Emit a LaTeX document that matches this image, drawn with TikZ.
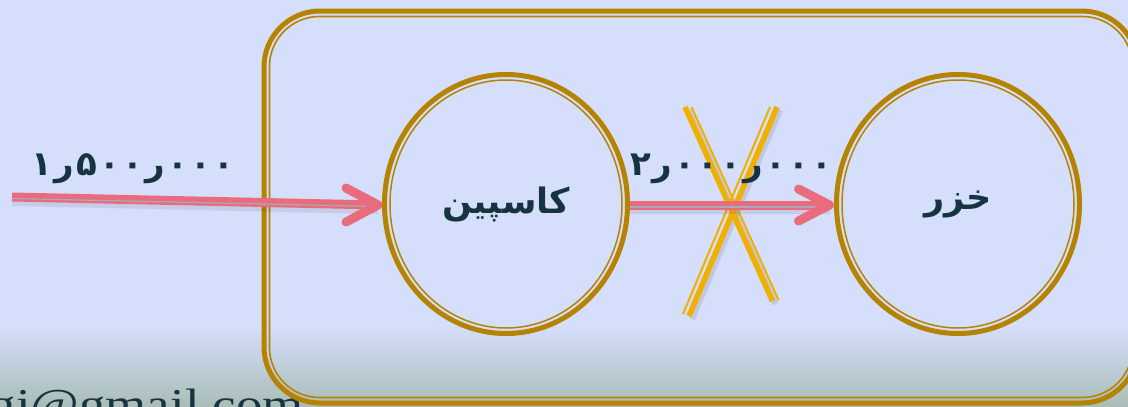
\documentclass[tikz,border=0pt]{standalone}
\usepackage{fontspec}
\setmainfont{Liberation Serif}
\newfontfamily\fa[Script=Arabic]{DejaVu Sans}
\newfontfamily\mailfont[FakeStretch=1.2]{Liberation Serif}
\TeXXeTstate=1
\usetikzlibrary{shapes.geometric}
\definecolor{bgc}{HTML}{D5DEFB}
\definecolor{bgb}{HTML}{A9BDB7}
\definecolor{gold}{HTML}{B58300}
\definecolor{pinkc}{HTML}{E86C7C}
\definecolor{shaftgray}{HTML}{A9A9BC}
\definecolor{xorange}{HTML}{F1AF00}
\definecolor{ink}{HTML}{163440}
\newcommand{\dg}[1]{\mbox{#1}\kern2.2pt}
\tikzset{
  ring/.style={ellipse, draw=gold, line width=5pt, minimum width=243pt,
    minimum height=259pt, inner sep=0pt, text=ink,
    font=\fa\bfseries\fontsize{35}{40}\selectfont},
  innerring/.style={draw=gold, line width=1.5pt},
  shaft/.style={draw=pinkc, line width=9pt},
  shaftmid/.style={draw=shaftgray, line width=1.2pt},
  shaftshadow/.style={draw=black, opacity=0.08, line width=10pt},
  head/.style={draw=pinkc, line width=9pt, line cap=round, line join=round},
  flowlabel/.style={text=ink, inner sep=0pt, font=\fa\bfseries\fontsize{34}{38}\selectfont},
  xthick/.style={draw=xorange, line width=5.5pt},
  xthin/.style={draw=xorange, line width=2pt},
  xshadow/.style={draw=black, opacity=0.10, line width=6pt},
}
\begin{document}
\begin{tikzpicture}[x=1pt,y=-1pt]
\useasboundingbox (0,0) rectangle (1128,407);
\clip (0,0) rectangle (1128,407);
\fill[bgc] (0,0) rectangle (1128,407);
\shade[top color=bgc, bottom color=bgb] (0,326) rectangle (1128,407);

% email (cut off, as in the reference)
\node[font=\mailfont\fontsize{44}{48}\selectfont, text=ink, anchor=base east, inner sep=0pt] (mail) at (304,419) {gi@gmail.com};

% frame
\draw[gold, line width=5pt, rounded corners=56pt] (264,11) rectangle (1138,403);
\draw[gold, line width=1.6pt, rounded corners=50pt] (269.5,16.5) rectangle (1132.5,397.5);

% circles
\node[ring] (c1) at (506,204) {\beginR کاسپین\endR};
\node[ring] (c2) at (958,204) {\beginR خزر\endR};
\draw[innerring] (c1.center) ellipse [x radius=116pt, y radius=124pt];
\draw[innerring] (c2.center) ellipse [x radius=116pt, y radius=124pt];

% cross
\coordinate (xa1) at (685,107);  \coordinate (xa2) at (772.5,301);
\coordinate (xb1) at (777,107);  \coordinate (xb2) at (689,316);
\draw[xshadow] ([xshift=3pt,yshift=-3pt]xa1) -- ([xshift=3pt,yshift=-3pt]xa2);
\draw[xshadow] ([xshift=3pt,yshift=-3pt]xb1) -- ([xshift=3pt,yshift=-3pt]xb2);
\draw[xthick] (xa1) -- (xa2);
\draw[xthin] ([xshift=6.5pt]xa1) -- ([xshift=6pt,yshift=1pt]xa2);
\draw[xthick] (xb1) -- (xb2);
\draw[xthin] ([xshift=-7pt]xb1) -- ([xshift=-6pt,yshift=2pt]xb2);

% labels
\node[flowlabel] (l1) at (133,169) {\dg{۱}\dg{ر}\dg{۵}\dg{۰}\dg{۰}\dg{ر}\dg{۰}\dg{۰}\mbox{۰}};
\node[flowlabel] (l2) at (731,169) {\dg{۲}\dg{ر}\dg{۰}\dg{۰}\dg{۰}\dg{ر}\dg{۰}\dg{۰}\mbox{۰}};

% arrow 1
\coordinate (s1) at (12,197);
\coordinate (t1) at ([xshift=-4pt,yshift=-1pt]c1.west);
\draw[shaftshadow] ([yshift=-4pt]s1) -- ([yshift=-4pt]t1);
\draw[shaft] (s1) -- (t1);
\draw[shaftmid] ([yshift=-1.5pt]s1) -- ([yshift=-1.5pt]t1);
\draw[head] ([xshift=-32pt,yshift=17pt]t1) -- (t1) -- ([xshift=-32pt,yshift=-17pt]t1);

% arrow 2
\coordinate (s2) at ([yshift=-1pt]c1.east);
\coordinate (t2) at ([xshift=-4.5pt,yshift=-1pt]c2.west);
\draw[shaftshadow] ([yshift=-4pt]s2) -- ([yshift=-4pt]t2);
\draw[shaft] (s2) -- (t2);
\draw[shaftmid] ([yshift=-2pt]s2) -- ([yshift=-2pt]t2);
\draw[head] ([xshift=-31pt,yshift=16pt]t2) -- (t2) -- ([xshift=-31pt,yshift=-16pt]t2);
\end{tikzpicture}
\end{document}
